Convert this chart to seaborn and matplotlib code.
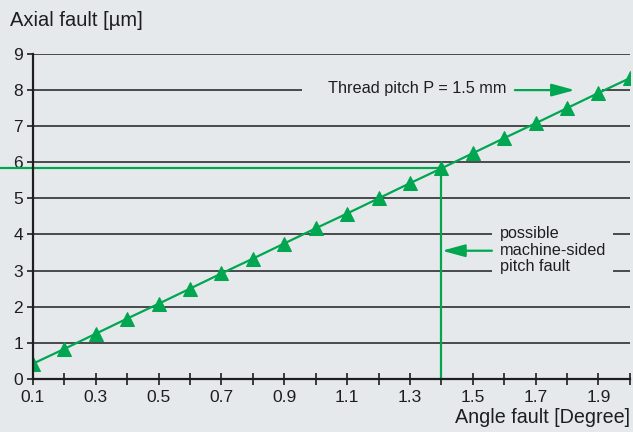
import pandas as pd
import matplotlib.pyplot as plt
import matplotlib.transforms as mtransforms
from matplotlib import font_manager
import seaborn as sns

# values
angle = [0.1, 0.2, 0.3, 0.4, 0.5, 0.6, 0.7, 0.8, 0.9, 1.0,
         1.1, 1.2, 1.3, 1.4, 1.5, 1.6, 1.7, 1.8, 1.9, 2.0]
axial = [0.42, 0.83, 1.25, 1.67, 2.08, 2.50, 2.92, 3.33, 3.75, 4.17,
         4.58, 5.00, 5.42, 5.83, 6.25, 6.67, 7.08, 7.50, 7.92, 8.33]
x_ticks = [0.1, 0.2, 0.3, 0.4, 0.5, 0.6, 0.7, 0.8, 0.9, 1.0,
           1.1, 1.2, 1.3, 1.4, 1.5, 1.6, 1.7, 1.8, 1.9, 2.0]
x_labels = ["0.1", "", "0.3", "", "0.5", "", "0.7", "", "0.9", "",
            "1.1", "", "1.3", "", "1.5", "", "1.7", "", "1.9", ""]
y_ticks = [0, 1, 2, 3, 4, 5, 6, 7, 8, 9]
marked_angle = 1.4
marked_fault = 5.83

df = pd.DataFrame({"Angle": angle, "Axial": axial})

bg = "#e6e9ec"
green = "#00a650"
ink = "#1e1e1e"

sns.set_style("white")
names = {f.name for f in font_manager.fontManager.ttflist}
font = "Liberation Sans Narrow" if "Liberation Sans Narrow" in names else "Liberation Sans"
plt.rcParams["font.family"] = [font, "DejaVu Sans"]

fig = plt.figure(figsize=(6.33, 4.32), dpi=100, facecolor=bg)
ax = fig.add_axes([0.052, 0.123, 0.943, 0.752], facecolor=bg)

# horizontal grid lines
for yv in y_ticks[1:]:
    ax.axhline(yv, color=ink, lw=1.1, zorder=1)

# gaps in the grid behind the annotations
ax.add_patch(plt.Rectangle((0.956, 7.7), 0.955, 0.6, facecolor=bg, edgecolor="none", zorder=2))
ax.add_patch(plt.Rectangle((1.561, 2.7), 0.385, 1.7, facecolor=bg, edgecolor="none", zorder=2))

sns.lineplot(data=df, x="Angle", y="Axial", ax=ax, color=green, lw=1.6,
             marker="^", markersize=9.5, markeredgecolor=green, zorder=4)

# marked reading at 1.4 degree
trans = mtransforms.blended_transform_factory(ax.transAxes, ax.transData)
ax.plot([-0.055, (marked_angle - 0.1) / 1.9], [marked_fault, marked_fault],
        transform=trans, color=green, lw=1.6, clip_on=False, zorder=3)
ax.plot([marked_angle, marked_angle], [0, marked_fault], color=green, lw=1.6, zorder=3)

arrow = dict(arrowstyle="-|>,head_length=1.4,head_width=0.38",
             color=green, lw=1.6, shrinkA=0, shrinkB=0)

ax.text(1.039, 8.05, "Thread pitch P = 1.5 mm", fontsize=11.7, color=ink,
        va="center", ha="left", zorder=5)
ax.annotate("", xy=(1.825, 8.0), xytext=(1.634, 8.0), arrowprops=arrow, zorder=5)

ax.text(1.586, 3.57, "possible\nmachine-sided\npitch fault", fontsize=11.7, color=ink,
        va="center", ha="left", linespacing=1.15, zorder=5)
ax.annotate("", xy=(1.402, 3.55), xytext=(1.561, 3.55), arrowprops=arrow, zorder=5)

ax.set_xlim(0.1, 2.0)
ax.set_ylim(0, 9)
ax.set_xticks(x_ticks)
ax.set_xticklabels(x_labels)
ax.set_yticks(y_ticks)
ax.tick_params(axis="x", bottom=True, direction="inout", length=8, width=1.2, color=ink,
               labelsize=12.5, labelcolor=ink, pad=4)
ax.tick_params(axis="y", left=True, direction="out", length=4, width=1.2, color=ink,
               labelsize=12.5, labelcolor=ink, pad=3)
for s in ["top", "right"]:
    ax.spines[s].set_visible(False)
for s in ["left", "bottom"]:
    ax.spines[s].set_color(ink)
    ax.spines[s].set_linewidth(1.6)
    ax.spines[s].set_zorder(6)

ax.set_xlabel("")
ax.set_ylabel("")
fig.text(0.995, 0.012, "Angle fault [Degree]", ha="right", va="bottom", fontsize=14.2, color=ink)
fig.text(0.016, 0.93, "Axial fault [µm]", ha="left", va="bottom", fontsize=14.5, color=ink)

fig.savefig("out.png", dpi=100, facecolor=bg)
